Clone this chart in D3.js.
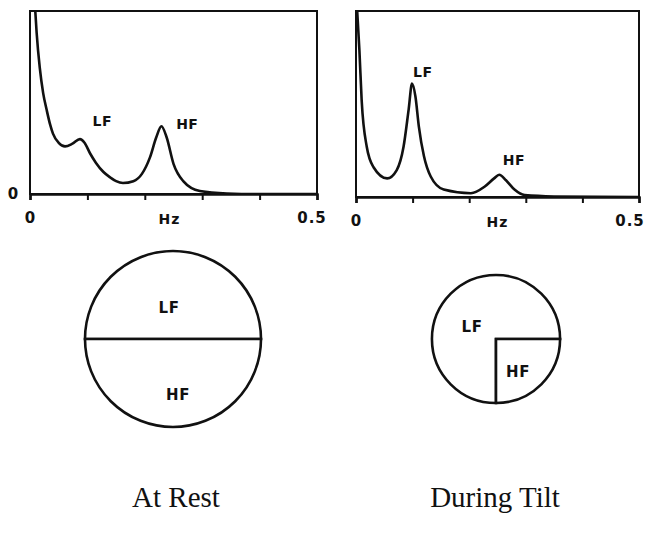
<!DOCTYPE html>
<html><head><meta charset="utf-8">
<script src="https://cdn.jsdelivr.net/npm/d3@7"></script>
<style>
html,body{margin:0;padding:0;background:#fff;}
svg{display:block;}
.lbl{font-family:"DejaVu Sans",sans-serif;font-weight:bold;fill:#111;}
.cap{font-family:"Liberation Serif","Times New Roman",serif;fill:#111;}
</style></head>
<body>
<svg id="c" width="648" height="538"></svg>
<script>
// ---- data ----
const freqRest  = [0.009,0.0116,0.017,0.023,0.029,0.035,0.040,0.050,0.061,0.074,0.087,0.095,0.105,0.115,0.128,0.140,0.150,0.162,0.180,0.195,0.209,0.220,0.229,0.238,0.250,0.267,0.296,0.343,0.40,0.50];
const powerRest = [101,88,69,55,46,38,33,28,26,27.5,30,28,22,17,12,9,7,6,7,11,20,31,37,31,16.5,7,1.6,0.3,0,0];
const freqTilt  = [0.002,0.006,0.010,0.019,0.031,0.055,0.072,0.084,0.093,0.099,0.105,0.111,0.120,0.132,0.155,0.203,0.227,0.244,0.253,0.265,0.280,0.298,0.350,0.50];
const powerTilt = [100.5,79,52,27,16,10,14.5,27,47,61,54,38,22,11,4,2,5.5,10,12,9,4,1,0.3,0];
const xTickValues = [0,0.1,0.2,0.3,0.4,0.5];
const xTickLabels = ["0","0.5"];
const xAxisTitle = "Hz";
const bandNames = ["LF","HF"];
const restShares = [50,50];
const tiltShares = [75,25];
const totalPower = [100,53];
const captions = ["At Rest","During Tilt"];

const svg = d3.select("#c");
const ink = "#111";

function spectrum(cfg){
  const x = d3.scaleLinear().domain([0,0.5]).range([cfg.x0,cfg.x1]);
  const y = d3.scaleLinear().domain([0,100]).range([cfg.y0,cfg.y1]);
  const g = svg.append("g");
  const clipId = "clip"+cfg.id;
  svg.append("clipPath").attr("id",clipId).append("rect")
    .attr("x",cfg.x0).attr("y",cfg.y1).attr("width",cfg.x1-cfg.x0).attr("height",cfg.y0-cfg.y1);
  g.append("rect").attr("x",cfg.x0).attr("y",cfg.y1).attr("width",cfg.x1-cfg.x0).attr("height",cfg.y0-cfg.y1)
    .attr("fill","none").attr("stroke",ink).attr("stroke-width",2);
  const ax = g.append("g").attr("transform",`translate(0,${cfg.y0})`)
    .call(d3.axisBottom(x).tickValues(xTickValues).tickSize(6).tickFormat(""));
  ax.select(".domain").attr("stroke",ink).attr("stroke-width",2.5);
  ax.selectAll(".tick line").attr("stroke",ink).attr("stroke-width",2);
  g.append("text").attr("class","lbl").attr("x",x(0)).attr("y",cfg.y0+29).attr("text-anchor","middle")
    .attr("font-size",15).text(xTickLabels[0]);
  const endX = Math.min(x(0.5)+cfg.endShift, 647-17);
  g.append("text").attr("class","lbl").attr("x",endX).attr("y",cfg.y0+29).attr("text-anchor","middle")
    .attr("font-size",15).attr("letter-spacing",1).text(xTickLabels[1]);
  g.append("text").attr("class","lbl").attr("x",x(cfg.hzAt)).attr("y",cfg.y0+30).attr("text-anchor","middle")
    .attr("font-size",14).attr("letter-spacing",1).text(xAxisTitle);
  if(cfg.yZero){
    g.append("text").attr("class","lbl").attr("x",cfg.x0-17).attr("y",cfg.y0+5).attr("text-anchor","middle")
      .attr("font-size",15).text("0");
  }
  const line = d3.line().x(d=>x(d[0])).y(d=>y(d[1])).curve(d3.curveMonotoneX);
  g.append("path").datum(d3.zip(cfg.f,cfg.p)).attr("d",line).attr("clip-path",`url(#${clipId})`)
    .attr("fill","none").attr("stroke",ink).attr("stroke-width",2.6).attr("stroke-linejoin","round");
  cfg.labels.forEach(l=>{
    g.append("text").attr("class","lbl").attr("x",x(l.f)).attr("y",y(l.v)).attr("text-anchor","middle")
      .attr("font-size",14).attr("letter-spacing",0.5).text(l.t);
  });
}

spectrum({id:"L",x0:30,x1:317,y0:194,y1:11,f:freqRest,p:powerRest,hzAt:0.243,yZero:true,endShift:-5,
  labels:[{t:bandNames[0],f:0.126,v:37},{t:bandNames[1],f:0.274,v:35.5}]});
spectrum({id:"R",x0:356,x1:639,y0:197,y1:11,f:freqTilt,p:powerTilt,hzAt:0.25,yZero:false,endShift:3,
  labels:[{t:bandNames[0],f:0.118,v:64.5},{t:bandNames[1],f:0.279,v:17}]});

const rScale = d3.scaleSqrt().domain([0,100]).range([0,88]);
function pieChart(cx,cy,shares,total,start,labelPos){
  const r = rScale(total);
  const pie = d3.pie().sort(null).startAngle(start).endAngle(start+2*Math.PI);
  const arc = d3.arc().innerRadius(0).outerRadius(r);
  const g = svg.append("g").attr("transform",`translate(${cx},${cy})`);
  g.selectAll("path").data(pie(shares)).join("path").attr("d",arc)
    .attr("fill","#fff").attr("stroke",ink).attr("stroke-width",2.6).attr("stroke-linejoin","miter");
  bandNames.forEach((b,i)=>{
    g.append("text").attr("class","lbl").attr("x",labelPos[i][0]).attr("y",labelPos[i][1])
      .attr("text-anchor","middle").attr("font-size",15).attr("letter-spacing",0.5).text(b);
  });
}
pieChart(173,339,restShares,totalPower[0],-Math.PI/2,[[-4,-26],[5,61]]);
pieChart(496,339,tiltShares,totalPower[1],Math.PI,[[-24,-7],[22,38]]);

svg.append("text").attr("class","cap").attr("x",176).attr("y",507).attr("text-anchor","middle")
  .attr("font-size",29).text(captions[0]);
svg.append("text").attr("class","cap").attr("x",495).attr("y",507).attr("text-anchor","middle")
  .attr("font-size",29).text(captions[1]);
</script>
</body></html>
